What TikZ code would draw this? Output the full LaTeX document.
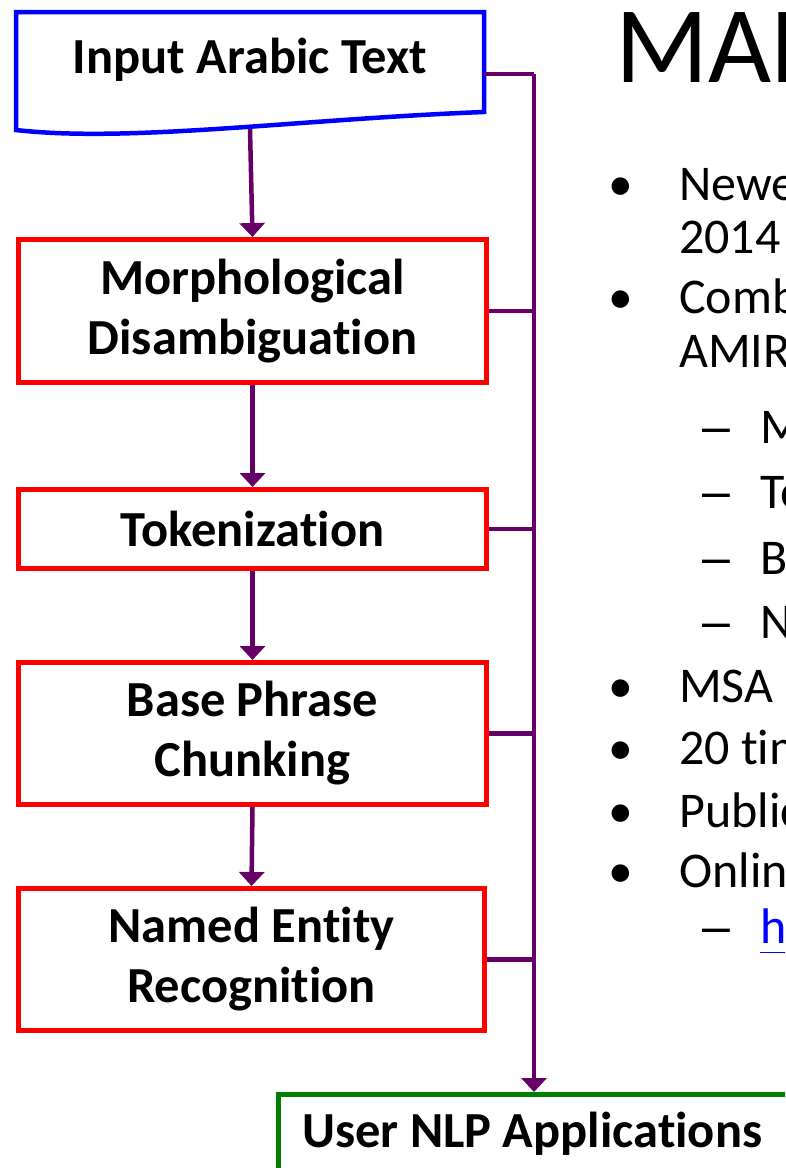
\documentclass[tikz,border=0pt]{standalone}
\usepackage{fontspec}
\setmainfont{Carlito}[Ligatures={NoCommon,NoRequired,NoContextual}]
\newfontfamily\dashfont{Liberation Sans}
\usetikzlibrary{arrows.meta}
\definecolor{flowpurple}{RGB}{102,0,102}
\definecolor{inblue}{RGB}{0,0,255}
\definecolor{stepred}{RGB}{255,0,0}
\definecolor{appgreen}{RGB}{0,128,0}
\definecolor{linkblue}{RGB}{0,0,255}
\begin{document}
\begin{tikzpicture}[x=1pt,y=-1pt,
  boxtext/.style={font=\fontsize{50.5}{60}\selectfont\bfseries, align=center, inner sep=0pt},
  stepbox/.style={draw=stepred, line width=5pt, minimum width=468pt, anchor=north west, boxtext},
  appbox/.style={draw=appgreen, line width=5pt, minimum width=600pt, minimum height=150pt, anchor=north west},
  flow/.style={draw=flowpurple, line width=4.5pt},
  flowarrow/.style={flow, -{Triangle[width=25pt,length=14pt]}},
  body/.style={font=\fontsize{50}{58}\selectfont, anchor=base west, inner sep=0pt},
  bulletmark/.style={font=\fontsize{49.5}{58}\selectfont, anchor=base, inner sep=0pt},
  dashmark/.style={font=\dashfont\fontsize{50}{58}\selectfont, anchor=base, inner sep=0pt},
]
\fill[white] (0,0) rectangle (785,1168);
\useasboundingbox (0,0) rectangle (785,1168);
\clip (0,0) rectangle (785,1168);

% input document shape with wavy bottom
\draw[draw=inblue, line width=4.5pt, line join=miter]
  (16,130) -- (16,12) -- (484,12) -- (484,112)
  .. controls (300,119) and (130,143) .. (16,130) -- cycle;
\node[boxtext, anchor=base] (input) at (250,73) {Input Arabic Text};
\coordinate (inbot) at (250,129);
\coordinate (inright) at (484,74);

% processing steps
\node[stepbox, minimum height=143pt] (morph) at (16,237) {Morphological\\Disambiguation};
\node[stepbox, minimum height=79pt] (tok) at (16,487) {Tokenization};
\node[stepbox, minimum height=142pt] (base) at (16,660) {Base Phrase\\Chunking};
\node[stepbox, minimum height=142pt, minimum width=466pt] (ner) at (16,886) {Named Entity\\Recognition};

% output box
\node[appbox] (user) at (276,1092) {};
\node[boxtext, anchor=base west] (usertext) at (302,1147) {User NLP Applications};

% pipeline arrows
\draw[flowarrow] (inbot) -- (morph.north);
\draw[flowarrow] (morph.south) -- (tok.north);
\draw[flowarrow] (tok.south) -- (base.north);
\draw[flowarrow] (base.south) -- (ner.north);

% output bus
\coordinate (bustop) at (534,74);
\draw[flow, line join=miter] (inright) -- (bustop);
\draw[flowarrow] (bustop) -- (user.north -| bustop);
\foreach \n in {morph,tok,base,ner}
  \draw[flow] (\n.east) -- (\n.east -| bustop);

% title and bullet list
\node[font=\fontsize{109}{120}\selectfont, anchor=base west, inner sep=0pt] (title) at (615,82) {MADAMIRA};

\foreach \y in {200,313,702,764,827,887}
  \node[bulletmark] at (621,\y) {•};
\foreach \y/\t in {200/Newest, 253/2014, 313/Combines, 367/AMIRA, 702/MSA, 764/20 times, 827/Publicly, 887/Online}
  \node[body] at (679,\y) {\t};
\foreach \y in {443,508,574,638,943}
  \node[dashmark] at (716,\y) {–};
\foreach \y/\t in {443/Morphology, 508/Tokenization, 574/Base, 638/Named}
  \node[body] at (760,\y) {\t};
\node[body, text=linkblue] (link) at (760,943) {\underline{http}};
\end{tikzpicture}
\end{document}
